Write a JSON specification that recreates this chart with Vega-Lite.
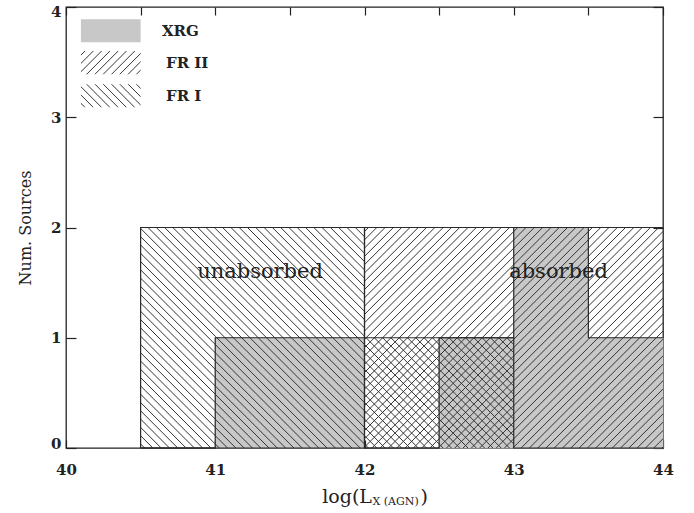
{
  "$schema": "https://vega.github.io/schema/vega-lite/v6.json",
  "width": 597,
  "height": 441,
  "autosize": "none",
  "padding": {"left": 66, "top": 7, "right": 31, "bottom": 65},
  "background": "white",
  "config": {
    "font": "DejaVu Serif",
    "view": {"stroke": "#222", "strokeWidth": 1.3},
    "axis": {"grid": false, "domain": false, "labelFont": "DejaVu Serif", "labelFontSize": 15, "labelFontWeight": "bold", "labelColor": "#222", "tickColor": "#222", "tickWidth": 1.2, "titleFont": "DejaVu Serif", "titleFontWeight": "normal", "titleColor": "#222"}
  },
  "data": {"values": [
    {"lo": 40, "hi": 40.5, "grp": "FR I", "n": 0},
    {"lo": 40.5, "hi": 41, "grp": "FR I", "n": 2},
    {"lo": 41, "hi": 41.5, "grp": "FR I", "n": 2},
    {"lo": 41.5, "hi": 42, "grp": "FR I", "n": 2},
    {"lo": 42, "hi": 42.5, "grp": "FR I", "n": 1},
    {"lo": 42.5, "hi": 43, "grp": "FR I", "n": 1},
    {"lo": 43, "hi": 43.5, "grp": "FR I", "n": 0},
    {"lo": 43.5, "hi": 44, "grp": "FR I", "n": 0},
    {"lo": 40, "hi": 40.5, "grp": "FR II", "n": 0},
    {"lo": 40.5, "hi": 41, "grp": "FR II", "n": 0},
    {"lo": 41, "hi": 41.5, "grp": "FR II", "n": 0},
    {"lo": 41.5, "hi": 42, "grp": "FR II", "n": 0},
    {"lo": 42, "hi": 42.5, "grp": "FR II", "n": 2},
    {"lo": 42.5, "hi": 43, "grp": "FR II", "n": 2},
    {"lo": 43, "hi": 43.5, "grp": "FR II", "n": 2},
    {"lo": 43.5, "hi": 44, "grp": "FR II", "n": 2},
    {"lo": 40, "hi": 40.5, "grp": "XRG", "n": 0},
    {"lo": 40.5, "hi": 41, "grp": "XRG", "n": 0},
    {"lo": 41, "hi": 41.5, "grp": "XRG", "n": 1},
    {"lo": 41.5, "hi": 42, "grp": "XRG", "n": 1},
    {"lo": 42, "hi": 42.5, "grp": "XRG", "n": 0},
    {"lo": 42.5, "hi": 43, "grp": "XRG", "n": 1},
    {"lo": 43, "hi": 43.5, "grp": "XRG", "n": 2},
    {"lo": 43.5, "hi": 44, "grp": "XRG", "n": 1}
  ]},
  "resolve": {"axis": {"x": "independent", "y": "independent"}},
  "layer": [
    {
      "transform": [{"filter": "datum.grp === 'XRG' && datum.n > 0"}],
      "mark": {"type": "rect", "fill": "#c8c8c8", "stroke": "#c8c8c8", "strokeWidth": 0.8},
      "encoding": {
        "x": {"field": "lo", "type": "quantitative", "scale": {"domain": [40, 44], "nice": false, "zero": false},
              "axis": {"orient": "bottom", "values": [40, 40.5, 41, 41.5, 42, 42.5, 43, 43.5, 44], "format": "d", "labelExpr": "datum.value % 1 === 0 ? datum.label : ''", "tickSize": -8, "labelPadding": 22, "labelFlush": false, "labelOverlap": false, "title": null}},
        "x2": {"field": "hi"},
        "y": {"field": "n", "type": "quantitative", "scale": {"domain": [0, 4], "nice": false},
              "axis": {"orient": "left", "values": [0, 1, 2, 3, 4], "format": "d", "tickSize": -10, "labelPadding": 15, "labelFlush": true, "labelFlushOffset": 3, "title": "Num. Sources", "titleFontSize": 16, "titlePadding": 17}},
        "y2": {"datum": 0}
      }
    },
    {
      "transform": [{"filter": "datum.grp === 'FR I' && datum.n === 2"}],
      "mark": {"type": "rect", "fill": {"gradient": "linear", "x1": 0, "y1": 1, "x2": 0.4064, "y2": -0.2009, "stops": [
        {"offset": 0.0102, "color": "rgba(51,51,51,0)"}, {"offset": 0.0136, "color": "#333"}, {"offset": 0.0170, "color": "rgba(51,51,51,0)"},
        {"offset": 0.0383, "color": "rgba(51,51,51,0)"}, {"offset": 0.0417, "color": "#333"}, {"offset": 0.0451, "color": "rgba(51,51,51,0)"},
        {"offset": 0.0663, "color": "rgba(51,51,51,0)"}, {"offset": 0.0697, "color": "#333"}, {"offset": 0.0731, "color": "rgba(51,51,51,0)"},
        {"offset": 0.0944, "color": "rgba(51,51,51,0)"}, {"offset": 0.0978, "color": "#333"}, {"offset": 0.1012, "color": "rgba(51,51,51,0)"},
        {"offset": 0.1225, "color": "rgba(51,51,51,0)"}, {"offset": 0.1259, "color": "#333"}, {"offset": 0.1293, "color": "rgba(51,51,51,0)"},
        {"offset": 0.1506, "color": "rgba(51,51,51,0)"}, {"offset": 0.1540, "color": "#333"}, {"offset": 0.1574, "color": "rgba(51,51,51,0)"},
        {"offset": 0.1787, "color": "rgba(51,51,51,0)"}, {"offset": 0.1821, "color": "#333"}, {"offset": 0.1855, "color": "rgba(51,51,51,0)"},
        {"offset": 0.2068, "color": "rgba(51,51,51,0)"}, {"offset": 0.2102, "color": "#333"}, {"offset": 0.2136, "color": "rgba(51,51,51,0)"},
        {"offset": 0.2349, "color": "rgba(51,51,51,0)"}, {"offset": 0.2383, "color": "#333"}, {"offset": 0.2417, "color": "rgba(51,51,51,0)"},
        {"offset": 0.2630, "color": "rgba(51,51,51,0)"}, {"offset": 0.2664, "color": "#333"}, {"offset": 0.2698, "color": "rgba(51,51,51,0)"},
        {"offset": 0.2911, "color": "rgba(51,51,51,0)"}, {"offset": 0.2945, "color": "#333"}, {"offset": 0.2979, "color": "rgba(51,51,51,0)"},
        {"offset": 0.3192, "color": "rgba(51,51,51,0)"}, {"offset": 0.3226, "color": "#333"}, {"offset": 0.3260, "color": "rgba(51,51,51,0)"},
        {"offset": 0.3473, "color": "rgba(51,51,51,0)"}, {"offset": 0.3507, "color": "#333"}, {"offset": 0.3541, "color": "rgba(51,51,51,0)"},
        {"offset": 0.3754, "color": "rgba(51,51,51,0)"}, {"offset": 0.3788, "color": "#333"}, {"offset": 0.3822, "color": "rgba(51,51,51,0)"},
        {"offset": 0.4035, "color": "rgba(51,51,51,0)"}, {"offset": 0.4069, "color": "#333"}, {"offset": 0.4103, "color": "rgba(51,51,51,0)"},
        {"offset": 0.4316, "color": "rgba(51,51,51,0)"}, {"offset": 0.4350, "color": "#333"}, {"offset": 0.4384, "color": "rgba(51,51,51,0)"},
        {"offset": 0.4597, "color": "rgba(51,51,51,0)"}, {"offset": 0.4631, "color": "#333"}, {"offset": 0.4665, "color": "rgba(51,51,51,0)"},
        {"offset": 0.4878, "color": "rgba(51,51,51,0)"}, {"offset": 0.4912, "color": "#333"}, {"offset": 0.4946, "color": "rgba(51,51,51,0)"},
        {"offset": 0.5159, "color": "rgba(51,51,51,0)"}, {"offset": 0.5193, "color": "#333"}, {"offset": 0.5227, "color": "rgba(51,51,51,0)"},
        {"offset": 0.5440, "color": "rgba(51,51,51,0)"}, {"offset": 0.5474, "color": "#333"}, {"offset": 0.5508, "color": "rgba(51,51,51,0)"},
        {"offset": 0.5721, "color": "rgba(51,51,51,0)"}, {"offset": 0.5755, "color": "#333"}, {"offset": 0.5789, "color": "rgba(51,51,51,0)"},
        {"offset": 0.6002, "color": "rgba(51,51,51,0)"}, {"offset": 0.6036, "color": "#333"}, {"offset": 0.6070, "color": "rgba(51,51,51,0)"},
        {"offset": 0.6282, "color": "rgba(51,51,51,0)"}, {"offset": 0.6316, "color": "#333"}, {"offset": 0.6350, "color": "rgba(51,51,51,0)"},
        {"offset": 0.6563, "color": "rgba(51,51,51,0)"}, {"offset": 0.6597, "color": "#333"}, {"offset": 0.6631, "color": "rgba(51,51,51,0)"},
        {"offset": 0.6844, "color": "rgba(51,51,51,0)"}, {"offset": 0.6878, "color": "#333"}, {"offset": 0.6912, "color": "rgba(51,51,51,0)"},
        {"offset": 0.7125, "color": "rgba(51,51,51,0)"}, {"offset": 0.7159, "color": "#333"}, {"offset": 0.7193, "color": "rgba(51,51,51,0)"},
        {"offset": 0.7406, "color": "rgba(51,51,51,0)"}, {"offset": 0.7440, "color": "#333"}, {"offset": 0.7474, "color": "rgba(51,51,51,0)"},
        {"offset": 0.7687, "color": "rgba(51,51,51,0)"}, {"offset": 0.7721, "color": "#333"}, {"offset": 0.7755, "color": "rgba(51,51,51,0)"},
        {"offset": 0.7968, "color": "rgba(51,51,51,0)"}, {"offset": 0.8002, "color": "#333"}, {"offset": 0.8036, "color": "rgba(51,51,51,0)"},
        {"offset": 0.8249, "color": "rgba(51,51,51,0)"}, {"offset": 0.8283, "color": "#333"}, {"offset": 0.8317, "color": "rgba(51,51,51,0)"},
        {"offset": 0.8530, "color": "rgba(51,51,51,0)"}, {"offset": 0.8564, "color": "#333"}, {"offset": 0.8598, "color": "rgba(51,51,51,0)"},
        {"offset": 0.8811, "color": "rgba(51,51,51,0)"}, {"offset": 0.8845, "color": "#333"}, {"offset": 0.8879, "color": "rgba(51,51,51,0)"},
        {"offset": 0.9092, "color": "rgba(51,51,51,0)"}, {"offset": 0.9126, "color": "#333"}, {"offset": 0.9160, "color": "rgba(51,51,51,0)"},
        {"offset": 0.9373, "color": "rgba(51,51,51,0)"}, {"offset": 0.9407, "color": "#333"}, {"offset": 0.9441, "color": "rgba(51,51,51,0)"},
        {"offset": 0.9654, "color": "rgba(51,51,51,0)"}, {"offset": 0.9688, "color": "#333"}, {"offset": 0.9722, "color": "rgba(51,51,51,0)"},
        {"offset": 0.9935, "color": "rgba(51,51,51,0)"}, {"offset": 0.9969, "color": "#333"}, {"offset": 1, "color": "rgba(51,51,51,0)"}
      ]}},
      "encoding": {
        "x": {"field": "lo", "type": "quantitative", "scale": {"domain": [40, 44], "nice": false, "zero": false}, "axis": null},
        "x2": {"field": "hi"},
        "y": {"field": "n", "type": "quantitative", "scale": {"domain": [0, 4], "nice": false}, "axis": null},
        "y2": {"datum": 0}
      }
    },
    {
      "transform": [{"filter": "datum.grp === 'FR I' && datum.n === 1"}],
      "mark": {"type": "rect", "fill": {"gradient": "linear", "x1": 0, "y1": 1, "x2": 0.7784, "y2": -0.1500, "stops": [
        {"offset": 0.0162, "color": "rgba(51,51,51,0)"}, {"offset": 0.0216, "color": "#333"}, {"offset": 0.0270, "color": "rgba(51,51,51,0)"},
        {"offset": 0.0611, "color": "rgba(51,51,51,0)"}, {"offset": 0.0665, "color": "#333"}, {"offset": 0.0719, "color": "rgba(51,51,51,0)"},
        {"offset": 0.1059, "color": "rgba(51,51,51,0)"}, {"offset": 0.1113, "color": "#333"}, {"offset": 0.1167, "color": "rgba(51,51,51,0)"},
        {"offset": 0.1508, "color": "rgba(51,51,51,0)"}, {"offset": 0.1562, "color": "#333"}, {"offset": 0.1616, "color": "rgba(51,51,51,0)"},
        {"offset": 0.1956, "color": "rgba(51,51,51,0)"}, {"offset": 0.2010, "color": "#333"}, {"offset": 0.2064, "color": "rgba(51,51,51,0)"},
        {"offset": 0.2405, "color": "rgba(51,51,51,0)"}, {"offset": 0.2459, "color": "#333"}, {"offset": 0.2513, "color": "rgba(51,51,51,0)"},
        {"offset": 0.2853, "color": "rgba(51,51,51,0)"}, {"offset": 0.2907, "color": "#333"}, {"offset": 0.2961, "color": "rgba(51,51,51,0)"},
        {"offset": 0.3302, "color": "rgba(51,51,51,0)"}, {"offset": 0.3356, "color": "#333"}, {"offset": 0.3410, "color": "rgba(51,51,51,0)"},
        {"offset": 0.3750, "color": "rgba(51,51,51,0)"}, {"offset": 0.3804, "color": "#333"}, {"offset": 0.3858, "color": "rgba(51,51,51,0)"},
        {"offset": 0.4199, "color": "rgba(51,51,51,0)"}, {"offset": 0.4253, "color": "#333"}, {"offset": 0.4307, "color": "rgba(51,51,51,0)"},
        {"offset": 0.4647, "color": "rgba(51,51,51,0)"}, {"offset": 0.4701, "color": "#333"}, {"offset": 0.4755, "color": "rgba(51,51,51,0)"},
        {"offset": 0.5096, "color": "rgba(51,51,51,0)"}, {"offset": 0.5150, "color": "#333"}, {"offset": 0.5204, "color": "rgba(51,51,51,0)"},
        {"offset": 0.5544, "color": "rgba(51,51,51,0)"}, {"offset": 0.5598, "color": "#333"}, {"offset": 0.5652, "color": "rgba(51,51,51,0)"},
        {"offset": 0.5993, "color": "rgba(51,51,51,0)"}, {"offset": 0.6047, "color": "#333"}, {"offset": 0.6101, "color": "rgba(51,51,51,0)"},
        {"offset": 0.6441, "color": "rgba(51,51,51,0)"}, {"offset": 0.6495, "color": "#333"}, {"offset": 0.6549, "color": "rgba(51,51,51,0)"},
        {"offset": 0.6890, "color": "rgba(51,51,51,0)"}, {"offset": 0.6944, "color": "#333"}, {"offset": 0.6998, "color": "rgba(51,51,51,0)"},
        {"offset": 0.7338, "color": "rgba(51,51,51,0)"}, {"offset": 0.7392, "color": "#333"}, {"offset": 0.7446, "color": "rgba(51,51,51,0)"},
        {"offset": 0.7787, "color": "rgba(51,51,51,0)"}, {"offset": 0.7841, "color": "#333"}, {"offset": 0.7895, "color": "rgba(51,51,51,0)"},
        {"offset": 0.8235, "color": "rgba(51,51,51,0)"}, {"offset": 0.8289, "color": "#333"}, {"offset": 0.8343, "color": "rgba(51,51,51,0)"},
        {"offset": 0.8684, "color": "rgba(51,51,51,0)"}, {"offset": 0.8738, "color": "#333"}, {"offset": 0.8792, "color": "rgba(51,51,51,0)"},
        {"offset": 0.9132, "color": "rgba(51,51,51,0)"}, {"offset": 0.9186, "color": "#333"}, {"offset": 0.9240, "color": "rgba(51,51,51,0)"},
        {"offset": 0.9581, "color": "rgba(51,51,51,0)"}, {"offset": 0.9635, "color": "#333"}, {"offset": 0.9689, "color": "rgba(51,51,51,0)"}
      ]}},
      "encoding": {
        "x": {"field": "lo", "type": "quantitative", "scale": {"domain": [40, 44], "nice": false, "zero": false}, "axis": null},
        "x2": {"field": "hi"},
        "y": {"field": "n", "type": "quantitative", "scale": {"domain": [0, 4], "nice": false}, "axis": null},
        "y2": {"datum": 0}
      }
    },
    {
      "transform": [{"filter": "datum.grp === 'FR II' && datum.n === 2"}],
      "mark": {"type": "rect", "fill": {"gradient": "linear", "x1": 0, "y1": 0, "x2": 0.4064, "y2": 1.2009, "stops": [
        {"offset": 0.0102, "color": "rgba(51,51,51,0)"}, {"offset": 0.0136, "color": "#333"}, {"offset": 0.0170, "color": "rgba(51,51,51,0)"},
        {"offset": 0.0383, "color": "rgba(51,51,51,0)"}, {"offset": 0.0417, "color": "#333"}, {"offset": 0.0451, "color": "rgba(51,51,51,0)"},
        {"offset": 0.0663, "color": "rgba(51,51,51,0)"}, {"offset": 0.0697, "color": "#333"}, {"offset": 0.0731, "color": "rgba(51,51,51,0)"},
        {"offset": 0.0944, "color": "rgba(51,51,51,0)"}, {"offset": 0.0978, "color": "#333"}, {"offset": 0.1012, "color": "rgba(51,51,51,0)"},
        {"offset": 0.1225, "color": "rgba(51,51,51,0)"}, {"offset": 0.1259, "color": "#333"}, {"offset": 0.1293, "color": "rgba(51,51,51,0)"},
        {"offset": 0.1506, "color": "rgba(51,51,51,0)"}, {"offset": 0.1540, "color": "#333"}, {"offset": 0.1574, "color": "rgba(51,51,51,0)"},
        {"offset": 0.1787, "color": "rgba(51,51,51,0)"}, {"offset": 0.1821, "color": "#333"}, {"offset": 0.1855, "color": "rgba(51,51,51,0)"},
        {"offset": 0.2068, "color": "rgba(51,51,51,0)"}, {"offset": 0.2102, "color": "#333"}, {"offset": 0.2136, "color": "rgba(51,51,51,0)"},
        {"offset": 0.2349, "color": "rgba(51,51,51,0)"}, {"offset": 0.2383, "color": "#333"}, {"offset": 0.2417, "color": "rgba(51,51,51,0)"},
        {"offset": 0.2630, "color": "rgba(51,51,51,0)"}, {"offset": 0.2664, "color": "#333"}, {"offset": 0.2698, "color": "rgba(51,51,51,0)"},
        {"offset": 0.2911, "color": "rgba(51,51,51,0)"}, {"offset": 0.2945, "color": "#333"}, {"offset": 0.2979, "color": "rgba(51,51,51,0)"},
        {"offset": 0.3192, "color": "rgba(51,51,51,0)"}, {"offset": 0.3226, "color": "#333"}, {"offset": 0.3260, "color": "rgba(51,51,51,0)"},
        {"offset": 0.3473, "color": "rgba(51,51,51,0)"}, {"offset": 0.3507, "color": "#333"}, {"offset": 0.3541, "color": "rgba(51,51,51,0)"},
        {"offset": 0.3754, "color": "rgba(51,51,51,0)"}, {"offset": 0.3788, "color": "#333"}, {"offset": 0.3822, "color": "rgba(51,51,51,0)"},
        {"offset": 0.4035, "color": "rgba(51,51,51,0)"}, {"offset": 0.4069, "color": "#333"}, {"offset": 0.4103, "color": "rgba(51,51,51,0)"},
        {"offset": 0.4316, "color": "rgba(51,51,51,0)"}, {"offset": 0.4350, "color": "#333"}, {"offset": 0.4384, "color": "rgba(51,51,51,0)"},
        {"offset": 0.4597, "color": "rgba(51,51,51,0)"}, {"offset": 0.4631, "color": "#333"}, {"offset": 0.4665, "color": "rgba(51,51,51,0)"},
        {"offset": 0.4878, "color": "rgba(51,51,51,0)"}, {"offset": 0.4912, "color": "#333"}, {"offset": 0.4946, "color": "rgba(51,51,51,0)"},
        {"offset": 0.5159, "color": "rgba(51,51,51,0)"}, {"offset": 0.5193, "color": "#333"}, {"offset": 0.5227, "color": "rgba(51,51,51,0)"},
        {"offset": 0.5440, "color": "rgba(51,51,51,0)"}, {"offset": 0.5474, "color": "#333"}, {"offset": 0.5508, "color": "rgba(51,51,51,0)"},
        {"offset": 0.5721, "color": "rgba(51,51,51,0)"}, {"offset": 0.5755, "color": "#333"}, {"offset": 0.5789, "color": "rgba(51,51,51,0)"},
        {"offset": 0.6002, "color": "rgba(51,51,51,0)"}, {"offset": 0.6036, "color": "#333"}, {"offset": 0.6070, "color": "rgba(51,51,51,0)"},
        {"offset": 0.6282, "color": "rgba(51,51,51,0)"}, {"offset": 0.6316, "color": "#333"}, {"offset": 0.6350, "color": "rgba(51,51,51,0)"},
        {"offset": 0.6563, "color": "rgba(51,51,51,0)"}, {"offset": 0.6597, "color": "#333"}, {"offset": 0.6631, "color": "rgba(51,51,51,0)"},
        {"offset": 0.6844, "color": "rgba(51,51,51,0)"}, {"offset": 0.6878, "color": "#333"}, {"offset": 0.6912, "color": "rgba(51,51,51,0)"},
        {"offset": 0.7125, "color": "rgba(51,51,51,0)"}, {"offset": 0.7159, "color": "#333"}, {"offset": 0.7193, "color": "rgba(51,51,51,0)"},
        {"offset": 0.7406, "color": "rgba(51,51,51,0)"}, {"offset": 0.7440, "color": "#333"}, {"offset": 0.7474, "color": "rgba(51,51,51,0)"},
        {"offset": 0.7687, "color": "rgba(51,51,51,0)"}, {"offset": 0.7721, "color": "#333"}, {"offset": 0.7755, "color": "rgba(51,51,51,0)"},
        {"offset": 0.7968, "color": "rgba(51,51,51,0)"}, {"offset": 0.8002, "color": "#333"}, {"offset": 0.8036, "color": "rgba(51,51,51,0)"},
        {"offset": 0.8249, "color": "rgba(51,51,51,0)"}, {"offset": 0.8283, "color": "#333"}, {"offset": 0.8317, "color": "rgba(51,51,51,0)"},
        {"offset": 0.8530, "color": "rgba(51,51,51,0)"}, {"offset": 0.8564, "color": "#333"}, {"offset": 0.8598, "color": "rgba(51,51,51,0)"},
        {"offset": 0.8811, "color": "rgba(51,51,51,0)"}, {"offset": 0.8845, "color": "#333"}, {"offset": 0.8879, "color": "rgba(51,51,51,0)"},
        {"offset": 0.9092, "color": "rgba(51,51,51,0)"}, {"offset": 0.9126, "color": "#333"}, {"offset": 0.9160, "color": "rgba(51,51,51,0)"},
        {"offset": 0.9373, "color": "rgba(51,51,51,0)"}, {"offset": 0.9407, "color": "#333"}, {"offset": 0.9441, "color": "rgba(51,51,51,0)"},
        {"offset": 0.9654, "color": "rgba(51,51,51,0)"}, {"offset": 0.9688, "color": "#333"}, {"offset": 0.9722, "color": "rgba(51,51,51,0)"},
        {"offset": 0.9935, "color": "rgba(51,51,51,0)"}, {"offset": 0.9969, "color": "#333"}, {"offset": 1, "color": "rgba(51,51,51,0)"}
      ]}},
      "encoding": {
        "x": {"field": "lo", "type": "quantitative", "scale": {"domain": [40, 44], "nice": false, "zero": false}, "axis": null},
        "x2": {"field": "hi"},
        "y": {"field": "n", "type": "quantitative", "scale": {"domain": [0, 4], "nice": false}, "axis": null},
        "y2": {"datum": 0}
      }
    },
    {
      "mark": {"type": "line", "interpolate": "step-before", "color": "#2a2a2a", "strokeWidth": 1.2},
      "encoding": {
        "x": {"field": "hi", "type": "quantitative", "scale": {"domain": [40, 44], "nice": false, "zero": false},
              "axis": {"orient": "top", "values": [40, 40.5, 41, 41.5, 42, 42.5, 43, 43.5, 44], "labels": false, "tickSize": -8, "title": null}},
        "y": {"field": "n", "type": "quantitative", "scale": {"domain": [0, 4], "nice": false},
              "axis": {"orient": "right", "values": [0, 1, 2, 3, 4], "labels": false, "tickSize": -10, "title": null}},
        "detail": {"field": "grp"}
      }
    },
    {
      "data": {"values": [{}]},
      "mark": {"type": "rect", "fill": "#c8c8c8"},
      "encoding": {
        "x": {"datum": 40.1, "type": "quantitative", "scale": {"domain": [40, 44], "nice": false, "zero": false}, "axis": null},
        "x2": {"datum": 40.5},
        "y": {"datum": 3.89, "type": "quantitative", "scale": {"domain": [0, 4], "nice": false}, "axis": null},
        "y2": {"datum": 3.68}
      }
    },
    {
      "data": {"values": [{}]},
      "mark": {"type": "rect", "fill": {"gradient": "linear", "x1": 0, "y1": 0, "x2": 1.2064, "y2": 0.4678, "stops": [
        {"offset": 0.0363, "color": "rgba(51,51,51,0)"}, {"offset": 0.0483, "color": "#333"}, {"offset": 0.0603, "color": "rgba(51,51,51,0)"},
        {"offset": 0.1364, "color": "rgba(51,51,51,0)"}, {"offset": 0.1484, "color": "#333"}, {"offset": 0.1604, "color": "rgba(51,51,51,0)"},
        {"offset": 0.2365, "color": "rgba(51,51,51,0)"}, {"offset": 0.2485, "color": "#333"}, {"offset": 0.2605, "color": "rgba(51,51,51,0)"},
        {"offset": 0.3365, "color": "rgba(51,51,51,0)"}, {"offset": 0.3485, "color": "#333"}, {"offset": 0.3605, "color": "rgba(51,51,51,0)"},
        {"offset": 0.4366, "color": "rgba(51,51,51,0)"}, {"offset": 0.4486, "color": "#333"}, {"offset": 0.4606, "color": "rgba(51,51,51,0)"},
        {"offset": 0.5367, "color": "rgba(51,51,51,0)"}, {"offset": 0.5487, "color": "#333"}, {"offset": 0.5607, "color": "rgba(51,51,51,0)"},
        {"offset": 0.6368, "color": "rgba(51,51,51,0)"}, {"offset": 0.6488, "color": "#333"}, {"offset": 0.6608, "color": "rgba(51,51,51,0)"},
        {"offset": 0.7369, "color": "rgba(51,51,51,0)"}, {"offset": 0.7489, "color": "#333"}, {"offset": 0.7609, "color": "rgba(51,51,51,0)"},
        {"offset": 0.8369, "color": "rgba(51,51,51,0)"}, {"offset": 0.8489, "color": "#333"}, {"offset": 0.8609, "color": "rgba(51,51,51,0)"},
        {"offset": 0.9370, "color": "rgba(51,51,51,0)"}, {"offset": 0.9490, "color": "#333"}, {"offset": 0.9610, "color": "rgba(51,51,51,0)"}
      ]}},
      "encoding": {
        "x": {"datum": 40.1, "type": "quantitative", "scale": {"domain": [40, 44], "nice": false, "zero": false}, "axis": null},
        "x2": {"datum": 40.5},
        "y": {"datum": 3.60, "type": "quantitative", "scale": {"domain": [0, 4], "nice": false}, "axis": null},
        "y2": {"datum": 3.39}
      }
    },
    {
      "data": {"values": [{}]},
      "mark": {"type": "rect", "fill": {"gradient": "linear", "x1": 0, "y1": 1, "x2": 1.2064, "y2": 0.5322, "stops": [
        {"offset": 0.0363, "color": "rgba(51,51,51,0)"}, {"offset": 0.0483, "color": "#333"}, {"offset": 0.0603, "color": "rgba(51,51,51,0)"},
        {"offset": 0.1364, "color": "rgba(51,51,51,0)"}, {"offset": 0.1484, "color": "#333"}, {"offset": 0.1604, "color": "rgba(51,51,51,0)"},
        {"offset": 0.2365, "color": "rgba(51,51,51,0)"}, {"offset": 0.2485, "color": "#333"}, {"offset": 0.2605, "color": "rgba(51,51,51,0)"},
        {"offset": 0.3365, "color": "rgba(51,51,51,0)"}, {"offset": 0.3485, "color": "#333"}, {"offset": 0.3605, "color": "rgba(51,51,51,0)"},
        {"offset": 0.4366, "color": "rgba(51,51,51,0)"}, {"offset": 0.4486, "color": "#333"}, {"offset": 0.4606, "color": "rgba(51,51,51,0)"},
        {"offset": 0.5367, "color": "rgba(51,51,51,0)"}, {"offset": 0.5487, "color": "#333"}, {"offset": 0.5607, "color": "rgba(51,51,51,0)"},
        {"offset": 0.6368, "color": "rgba(51,51,51,0)"}, {"offset": 0.6488, "color": "#333"}, {"offset": 0.6608, "color": "rgba(51,51,51,0)"},
        {"offset": 0.7369, "color": "rgba(51,51,51,0)"}, {"offset": 0.7489, "color": "#333"}, {"offset": 0.7609, "color": "rgba(51,51,51,0)"},
        {"offset": 0.8369, "color": "rgba(51,51,51,0)"}, {"offset": 0.8489, "color": "#333"}, {"offset": 0.8609, "color": "rgba(51,51,51,0)"},
        {"offset": 0.9370, "color": "rgba(51,51,51,0)"}, {"offset": 0.9490, "color": "#333"}, {"offset": 0.9610, "color": "rgba(51,51,51,0)"}
      ]}},
      "encoding": {
        "x": {"datum": 40.1, "type": "quantitative", "scale": {"domain": [40, 44], "nice": false, "zero": false}, "axis": null},
        "x2": {"datum": 40.5},
        "y": {"datum": 3.30, "type": "quantitative", "scale": {"domain": [0, 4], "nice": false}, "axis": null},
        "y2": {"datum": 3.09}
      }
    },
    {
      "data": {"values": [{}]},
      "mark": {"type": "text", "text": "XRG", "align": "left", "baseline": "middle", "fontSize": 15, "fontWeight": "bold", "color": "#222"},
      "encoding": {
        "x": {"datum": 40.643, "type": "quantitative", "scale": {"domain": [40, 44], "nice": false, "zero": false}, "axis": null},
        "y": {"datum": 3.785, "type": "quantitative", "scale": {"domain": [0, 4], "nice": false}, "axis": null}
      }
    },
    {
      "data": {"values": [{}]},
      "mark": {"type": "text", "text": "FR  II", "align": "left", "baseline": "middle", "fontSize": 15, "fontWeight": "bold", "color": "#222"},
      "encoding": {
        "x": {"datum": 40.67, "type": "quantitative", "scale": {"domain": [40, 44], "nice": false, "zero": false}, "axis": null},
        "y": {"datum": 3.495, "type": "quantitative", "scale": {"domain": [0, 4], "nice": false}, "axis": null}
      }
    },
    {
      "data": {"values": [{}]},
      "mark": {"type": "text", "text": "FR  I", "align": "left", "baseline": "middle", "fontSize": 15, "fontWeight": "bold", "color": "#222"},
      "encoding": {
        "x": {"datum": 40.67, "type": "quantitative", "scale": {"domain": [40, 44], "nice": false, "zero": false}, "axis": null},
        "y": {"datum": 3.195, "type": "quantitative", "scale": {"domain": [0, 4], "nice": false}, "axis": null}
      }
    },
    {
      "data": {"values": [{}]},
      "mark": {"type": "text", "text": "unabsorbed", "align": "center", "baseline": "middle", "fontSize": 21, "color": "#222"},
      "encoding": {
        "x": {"datum": 41.3, "type": "quantitative", "scale": {"domain": [40, 44], "nice": false, "zero": false}, "axis": null},
        "y": {"datum": 1.6, "type": "quantitative", "scale": {"domain": [0, 4], "nice": false}, "axis": null}
      }
    },
    {
      "data": {"values": [{}]},
      "mark": {"type": "text", "text": "absorbed", "align": "center", "baseline": "middle", "fontSize": 21, "color": "#222"},
      "encoding": {
        "x": {"datum": 43.3, "type": "quantitative", "scale": {"domain": [40, 44], "nice": false, "zero": false}, "axis": null},
        "y": {"datum": 1.6, "type": "quantitative", "scale": {"domain": [0, 4], "nice": false}, "axis": null}
      }
    },
    {
      "data": {"values": [{}]},
      "mark": {"type": "text", "text": "log(L", "align": "right", "baseline": "alphabetic", "fontSize": 19, "color": "#222"},
      "encoding": {
        "x": {"datum": 42.05, "type": "quantitative", "scale": {"domain": [40, 44], "nice": false, "zero": false}, "axis": null},
        "y": {"datum": -0.5, "type": "quantitative", "scale": {"domain": [0, 4], "nice": false}, "axis": null}
      }
    },
    {
      "data": {"values": [{}]},
      "mark": {"type": "text", "text": "X (AGN)", "align": "left", "baseline": "alphabetic", "fontSize": 11, "color": "#222"},
      "encoding": {
        "x": {"datum": 42.053, "type": "quantitative", "scale": {"domain": [40, 44], "nice": false, "zero": false}, "axis": null},
        "y": {"datum": -0.517, "type": "quantitative", "scale": {"domain": [0, 4], "nice": false}, "axis": null}
      }
    },
    {
      "data": {"values": [{}]},
      "mark": {"type": "text", "text": ")", "align": "left", "baseline": "alphabetic", "fontSize": 19, "color": "#222"},
      "encoding": {
        "x": {"datum": 42.375, "type": "quantitative", "scale": {"domain": [40, 44], "nice": false, "zero": false}, "axis": null},
        "y": {"datum": -0.5, "type": "quantitative", "scale": {"domain": [0, 4], "nice": false}, "axis": null}
      }
    }
  ]
}
